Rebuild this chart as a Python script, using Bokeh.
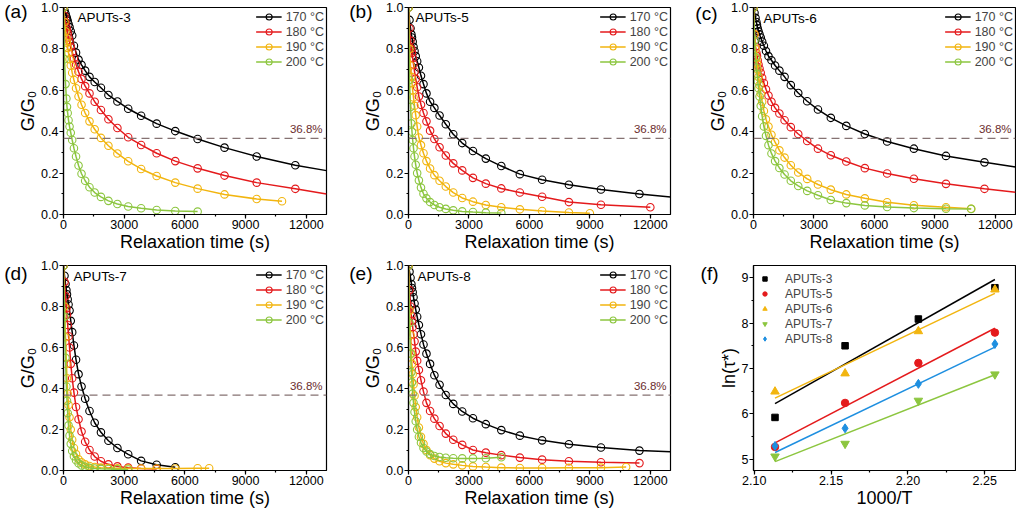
import numpy as np
from bokeh.plotting import figure
from bokeh.models import (Range1d, SingleIntervalTicker, NumeralTickFormatter, Span,
                          Label, Legend, LegendItem, LinearAxis, FixedTicker,
                          CustomJSTickFormatter)
from bokeh.layouts import column, row
from bokeh.embed import file_html
from bokeh.resources import INLINE

FONT = "Liberation Sans"

# ---------------------------------------------------------------- data
# measurement times (s) shared by the stress-relaxation curves
T = [0, 50, 100, 144, 173, 207, 249, 299, 359, 430, 516, 620, 744, 892, 1071,
     1285, 1542, 1851, 2221, 2665, 3198, 3837, 4605, 5525, 6630, 7960, 9550, 11460]
T_EDGE = 13000
TAU_LEVEL = 0.368
TEMP_LABELS = ["170 °C", "180 °C", "190 °C", "200 °C"]
SERIES_COLORS = ["#000000", "#E41A1C", "#F2B50F", "#8CC63F"]

# (a) APUTs-3
A3_170 = [1.0, 0.985, 0.97, 0.955, 0.945, 0.935, 0.92, 0.905, 0.885, 0.865, 0.815, 0.782, 0.748, 0.723,
          0.695, 0.665, 0.64, 0.612, 0.577, 0.546, 0.511, 0.477, 0.439, 0.403, 0.365, 0.323, 0.280, 0.238]
A3_180 = [1.0, 0.96, 0.93, 0.905, 0.89, 0.875, 0.855, 0.835, 0.81, 0.785, 0.755, 0.725, 0.69, 0.655,
          0.62, 0.585, 0.545, 0.505, 0.46, 0.418, 0.373, 0.336, 0.296, 0.258, 0.223, 0.188, 0.154, 0.124]
A3_190 = [1.0, 0.93, 0.885, 0.85, 0.83, 0.805, 0.78, 0.75, 0.72, 0.685, 0.65, 0.61, 0.57, 0.53,
          0.49, 0.45, 0.412, 0.37, 0.332, 0.295, 0.257, 0.22, 0.186, 0.154, 0.125, 0.097, 0.075, 0.064]
A3_200 = [1.0, 0.75, 0.63, 0.56, 0.52, 0.49, 0.455, 0.425, 0.395, 0.36, 0.32, 0.28, 0.237, 0.197,
          0.163, 0.132, 0.106, 0.085, 0.066, 0.051, 0.039, 0.030, 0.022, 0.017, 0.014]
A3_END = [None, None, 10800, None]        # time of last point when off the grid
A3_EDGE = [0.212, 0.099, None, None]      # fitted value at 13000 s

# (b) APUTs-5
A5_170 = [1.0, 0.94, 0.90, 0.87, 0.855, 0.835, 0.81, 0.79, 0.765, 0.74, 0.71, 0.67, 0.63, 0.585,
          0.545, 0.515, 0.478, 0.436, 0.388, 0.345, 0.307, 0.27, 0.234, 0.195, 0.168, 0.144, 0.121, 0.099]
A5_180 = [1.0, 0.90, 0.84, 0.80, 0.78, 0.755, 0.725, 0.69, 0.655, 0.615, 0.57, 0.53, 0.49, 0.45,
          0.405, 0.365, 0.325, 0.285, 0.247, 0.213, 0.177, 0.149, 0.126, 0.106, 0.086, 0.06, 0.047, 0.035]
A5_190 = [1.0, 0.80, 0.72, 0.665, 0.635, 0.60, 0.565, 0.525, 0.48, 0.425, 0.372, 0.335, 0.296, 0.258,
          0.222, 0.19, 0.163, 0.135, 0.106, 0.08, 0.062, 0.046, 0.035, 0.025, 0.017, 0.01, 0.006]
A5_200 = [1.0, 0.65, 0.52, 0.44, 0.40, 0.36, 0.32, 0.28, 0.24, 0.20, 0.165, 0.13, 0.10, 0.078,
          0.06, 0.046, 0.035, 0.027, 0.02, 0.015, 0.012, 0.009, 0.007]
A5_END = [None, 12000, 9000, None]
A5_EDGE = [0.085, None, None, None]

# (c) APUTs-6
A6_170 = [1.0, 0.975, 0.95, 0.93, 0.915, 0.90, 0.885, 0.87, 0.855, 0.835, 0.815, 0.79, 0.765, 0.745,
          0.72, 0.695, 0.665, 0.625, 0.587, 0.547, 0.507, 0.467, 0.428, 0.389, 0.353, 0.318, 0.283, 0.252]
A6_180 = [1.0, 0.87, 0.81, 0.78, 0.765, 0.745, 0.725, 0.705, 0.685, 0.66, 0.635, 0.605, 0.575, 0.545,
          0.515, 0.488, 0.455, 0.422, 0.389, 0.355, 0.318, 0.286, 0.256, 0.224, 0.198, 0.173, 0.148, 0.124]
A6_190 = [1.0, 0.87, 0.80, 0.755, 0.73, 0.70, 0.665, 0.625, 0.585, 0.545, 0.50, 0.46, 0.425, 0.385,
          0.35, 0.31, 0.275, 0.238, 0.203, 0.172, 0.145, 0.12, 0.097, 0.078, 0.059, 0.045, 0.035, 0.028]
A6_200 = [1.0, 0.84, 0.76, 0.71, 0.68, 0.645, 0.61, 0.57, 0.525, 0.475, 0.425, 0.38, 0.335, 0.295,
          0.258, 0.225, 0.193, 0.163, 0.138, 0.114, 0.093, 0.07, 0.055, 0.044, 0.036, 0.031, 0.028, 0.027]
A6_END = [None, None, 10800, 10800]
A6_EDGE = [0.23, 0.108, None, None]

# (d) APUTs-7
A7_170 = [1.0, 0.95, 0.91, 0.88, 0.86, 0.835, 0.81, 0.78, 0.73, 0.675, 0.61, 0.54, 0.47, 0.41,
          0.35, 0.29, 0.233, 0.186, 0.145, 0.11, 0.079, 0.047, 0.028, 0.016]
A7_180 = [1.0, 0.92, 0.85, 0.79, 0.76, 0.71, 0.655, 0.60, 0.52, 0.45, 0.38, 0.31, 0.25, 0.19,
          0.14, 0.10, 0.068, 0.045, 0.03, 0.02, 0.014, 0.01, 0.007]
A7_190 = [1.0, 0.80, 0.65, 0.52, 0.45, 0.375, 0.32, 0.26, 0.20, 0.15, 0.11, 0.08, 0.055, 0.04,
          0.03, 0.022, 0.017, 0.014, 0.012, 0.011, 0.01, 0.01, 0.01, 0.01, 0.011, 0.011]
A7_200 = [1.0, 0.75, 0.55, 0.41, 0.34, 0.28, 0.22, 0.17, 0.13, 0.095, 0.07, 0.05, 0.035, 0.025,
          0.018, 0.013, 0.01, 0.008, 0.007, 0.006, 0.005]
A7_END = [None, None, 7200, None]
A7_EDGE = [None, None, None, None]

# (e) APUTs-8
A8_170 = [1.0, 0.97, 0.94, 0.91, 0.89, 0.87, 0.845, 0.815, 0.785, 0.75, 0.71, 0.665, 0.615, 0.57,
          0.52, 0.465, 0.418, 0.368, 0.325, 0.288, 0.255, 0.226, 0.197, 0.17, 0.147, 0.128, 0.112, 0.097]
A8_180 = [1.0, 0.88, 0.80, 0.755, 0.73, 0.70, 0.665, 0.63, 0.58, 0.535, 0.49, 0.44, 0.385, 0.33,
          0.29, 0.253, 0.217, 0.18, 0.15, 0.125, 0.10, 0.087, 0.075, 0.063, 0.053, 0.045, 0.04, 0.036]
A8_190 = [1.0, 0.78, 0.66, 0.57, 0.52, 0.47, 0.42, 0.365, 0.31, 0.26, 0.21, 0.165, 0.13, 0.10,
          0.075, 0.058, 0.045, 0.036, 0.03, 0.025, 0.02, 0.017, 0.014, 0.012, 0.012, 0.013, 0.014, 0.017]
A8_200 = [1.0, 0.72, 0.57, 0.48, 0.43, 0.375, 0.33, 0.285, 0.24, 0.20, 0.165, 0.135, 0.11, 0.093,
          0.08, 0.071, 0.066, 0.062, 0.06, 0.059, 0.059, 0.06, 0.065]
A8_END = [None, None, 10800, None]
A8_EDGE = [0.091, None, None, None]

# (f) Arrhenius plot
INV_T = [2.1135, 2.1591, 2.2068, 2.2566]
LN_TAU_A3 = [5.92, 7.50, 8.09, 8.78]
LN_TAU_A5 = [5.27, 6.24, 7.12, 7.79]
LN_TAU_A6 = [6.49, 6.89, 7.82, 8.74]
LN_TAU_A7 = [5.06, 5.34, 6.29, 6.87]
LN_TAU_A8 = [5.29, 5.68, 6.66, 7.54]
F_NAMES = ["APUTs-3", "APUTs-5", "APUTs-6", "APUTs-7", "APUTs-8"]
F_COLORS = ["#000000", "#E41A1C", "#F2B50F", "#8CC63F", "#1E8FE0"]
F_MARKERS = ["square", "circle", "triangle", "inverted_triangle", "diamond"]
F_SIZES = [6.5, 7.5, 8.5, 8.5, 9]


# ---------------------------------------------------------------- helpers
def style(p, xint, yint, xfmt, yfmt, xlabel, ylabel):
    p.xgrid.visible = False
    p.ygrid.visible = False
    p.outline_line_color = "black"
    p.outline_line_width = 1.2
    p.background_fill_color = "white"
    p.border_fill_color = "white"
    for ax, interval, fmt, lab in ((p.xaxis[0], xint, xfmt, xlabel),
                                   (p.yaxis[0], yint, yfmt, ylabel)):
        ax.ticker = SingleIntervalTicker(interval=interval, num_minor_ticks=2)
        ax.formatter = NumeralTickFormatter(format=fmt)
        ax.axis_label = lab
        ax.axis_label_text_font = FONT
        ax.axis_label_text_font_size = "18px"
        ax.axis_label_text_font_style = "normal"
        ax.axis_label_text_color = "black"
        ax.axis_label_standoff = 0
        ax.major_label_text_font = FONT
        ax.major_label_text_font_size = "12.5px"
        ax.major_label_text_color = "black"
        ax.major_label_standoff = 1
        ax.axis_line_width = 1.2
        ax.major_tick_line_width = 1.2
        ax.minor_tick_line_width = 1.2
        ax.major_tick_in = 0
        ax.major_tick_out = 4
        ax.minor_tick_in = 0
        ax.minor_tick_out = 2


def make_legend(items, location, margin, padding, glyph_w, standoff, font_size):
    return Legend(items=items, location=location, margin=margin, padding=padding,
                  spacing=0, glyph_height=15, label_height=15,
                  glyph_width=glyph_w, label_standoff=standoff,
                  label_text_font=FONT, label_text_font_size=font_size,
                  border_line_alpha=0, background_fill_alpha=0)


def add_tag(p, text, y, standoff):
    """Panel letter, drawn as the only tick label of an extra outer left axis."""
    ax = LinearAxis(ticker=FixedTicker(ticks=[y], minor_ticks=[]),
                    formatter=CustomJSTickFormatter(code="return %r;" % text),
                    axis_line_color=None, major_tick_line_color=None,
                    minor_tick_line_color=None, major_tick_out=0, major_tick_in=0,
                    minor_tick_out=0, minor_tick_in=0, major_label_standoff=standoff,
                    major_label_text_font=FONT, major_label_text_font_size="19px",
                    major_label_text_color="black")
    p.add_layout(ax, "left")


def decay_panel(tag, name, series, ends, edges, lay):
    width, height, bl, br, bt, bb, tag_dy, name_dx, name_dy = lay
    p = figure(width=width, height=height, x_range=Range1d(0, T_EDGE), y_range=Range1d(0, 1.0),
               output_backend="svg", toolbar_location=None,
               min_border_left=bl, min_border_right=br, min_border_top=bt, min_border_bottom=bb)
    style(p, 3000, 0.2, "0", "0.0", "Relaxation time (s)", "G/G₀")
    fw = width - bl - br
    fh = height - bt - bb
    ux = T_EDGE / fw
    uy = 1.0 / fh

    p.add_layout(Span(location=TAU_LEVEL, dimension="width", line_color="#857272",
                      line_dash="8 5", line_width=1.2))
    p.add_layout(Label(x=T_EDGE - 4 * ux, y=TAU_LEVEL + 3 * uy, text="36.8%",
                       text_align="right", text_baseline="bottom", text_font=FONT,
                       text_font_size="11.5px", text_color="#6b2e2e"))

    items = []
    for vals, t_end, edge, lab, col in zip(series, ends, edges, TEMP_LABELS, SERIES_COLORS):
        xs = list(T[:len(vals)])
        if t_end is not None:
            xs[-1] = t_end
        lx, ly = list(xs), list(vals)
        if edge is not None:
            lx.append(T_EDGE)
            ly.append(edge)
        r_line = p.line(lx, ly, line_color=col, line_width=1.5)
        r_pts = p.scatter(xs, vals, marker="circle", size=7.5, line_color=col,
                          fill_color=None, line_width=1.1)
        items.append(LegendItem(label=lab, renderers=[r_line, r_pts]))

    p.add_layout(make_legend(items, "top_right", 2, 0, 26, 4, "12.5px"))
    add_tag(p, tag, 1.0 - tag_dy * uy, -12)
    p.add_layout(Label(x=name_dx * ux, y=1.0 - name_dy * uy, text=name, text_align="left",
                       text_baseline="middle", text_font=FONT, text_font_size="13.5px",
                       text_color="black"))
    return p


# layout: width, height, border l/r/t/b, tag offset below top, name offset (px)
LAY_A = (342, 257, 63, 16, 7, 43, 4, 14, 10)
LAY_B = (347, 257, 66, 19, 7, 43, 4, 7, 10)
LAY_C = (327, 257, 64, 1, 7, 43, 6, 10, 11)
LAY_D = (342, 257, 63, 16, 8, 42, 8, 10, 11)
LAY_E = (347, 257, 66, 19, 8, 42, 8, 9, 11)

pa = decay_panel("(a)", "APUTs-3", [A3_170, A3_180, A3_190, A3_200], A3_END, A3_EDGE, LAY_A)
pb = decay_panel("(b)", "APUTs-5", [A5_170, A5_180, A5_190, A5_200], A5_END, A5_EDGE, LAY_B)
pc = decay_panel("(c)", "APUTs-6", [A6_170, A6_180, A6_190, A6_200], A6_END, A6_EDGE, LAY_C)
pd = decay_panel("(d)", "APUTs-7", [A7_170, A7_180, A7_190, A7_200], A7_END, A7_EDGE, LAY_D)
pe = decay_panel("(e)", "APUTs-8", [A8_170, A8_180, A8_190, A8_200], A8_END, A8_EDGE, LAY_E)

# (f)
FW, FH, FBL, FBR, FBT, FBB = 327, 257, 64, 1, 2, 44
FX0, FX1, FY0, FY1 = 2.0995, 2.27, 4.75, 9.27
pf = figure(width=FW, height=FH, x_range=Range1d(FX0, FX1), y_range=Range1d(FY0, FY1),
            output_backend="svg", toolbar_location=None,
            min_border_left=FBL, min_border_right=FBR, min_border_top=FBT, min_border_bottom=FBB)
style(pf, 0.05, 1, "0.00", "0", "1000/T", "ln(τ*)")
f_items = []
f_series = [LN_TAU_A3, LN_TAU_A5, LN_TAU_A6, LN_TAU_A7, LN_TAU_A8]
for ys, col in zip(f_series, F_COLORS):
    k, b = np.polyfit(INV_T, ys, 1)
    xfit = [INV_T[0], INV_T[-1]]
    pf.line(xfit, [k * x + b for x in xfit], line_color=col, line_width=1.5)
for name, ys, col, mk, sz in zip(F_NAMES, f_series, F_COLORS, F_MARKERS, F_SIZES):
    r = pf.scatter(INV_T, ys, marker=mk, size=sz, fill_color=col, line_color=col)
    f_items.append(LegendItem(label=name, renderers=[r]))
pf.add_layout(make_legend(f_items, "top_left", 3, 3, 11, 15, "12px"))
fuy = (FY1 - FY0) / (FH - FBT - FBB)
add_tag(pf, "(f)", FY1 - 8.4 * fuy, -3)

layout = column(row(pa, pb, pc), row(pd, pe, pf))
open("out.html", "w").write(file_html(layout, INLINE))
